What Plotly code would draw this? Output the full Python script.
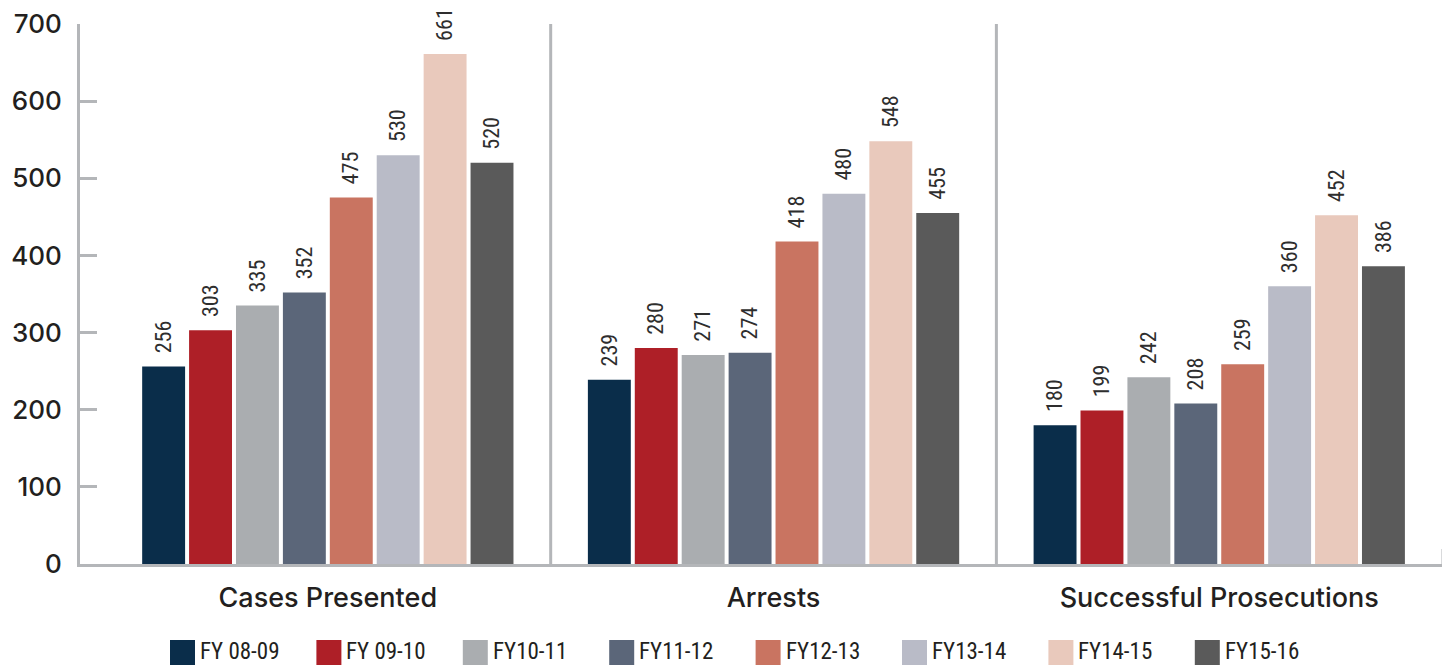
import plotly.graph_objects as go

# ---------------- data ----------------
categories = ["Cases Presented", "Arrests", "Successful Prosecutions"]
series_names = ["FY 08-09", "FY 09-10", "FY10-11", "FY11-12",
                "FY12-13", "FY13-14", "FY14-15", "FY15-16"]
fy08_09 = [256, 239, 180]
fy09_10 = [303, 280, 199]
fy10_11 = [335, 271, 242]
fy11_12 = [352, 274, 208]
fy12_13 = [475, 418, 259]
fy13_14 = [530, 480, 360]
fy14_15 = [661, 548, 452]
fy15_16 = [520, 455, 386]
y_tick_values = [0, 100, 200, 300, 400, 500, 600, 700]

series_values = [fy08_09, fy09_10, fy10_11, fy11_12,
                 fy12_13, fy13_14, fy14_15, fy15_16]

# ---------------- style ----------------
colors = ["#0a2d4a", "#ae1f27", "#aaadb0", "#5b6679",
          "#c97461", "#b9bbc7", "#e9c9bc", "#5a5a5a"]
axis_color = "#b4b6b9"
text_dark = "#231f20"
label_font = "Roboto Condensed, DejaVu Sans Condensed, sans-serif"
main_font = "Inter"

OFF = 8  # page body margin of the browser
W, H = 1450 - OFF, 667 - OFF
M_L, M_R, M_T, M_B = 80 - OFF, 7, 24 - OFF, 103
PLOT_W = W - M_L - M_R
PLOT_H = H - M_T - M_B


def px_to_paper_x(px):
    return (px - OFF - M_L) / PLOT_W


def py_to_paper_y(py):
    return (H - M_B - (py - OFF)) / PLOT_H


fig = go.Figure()
for name, vals, col in zip(series_names, series_values, colors):
    fig.add_trace(go.Bar(
        name=name,
        x=categories,
        y=vals,
        marker=dict(color=col, line=dict(width=0)),
        text=vals,
        texttemplate="\u00a0\u00a0%{text}",
        textposition="outside",
        textangle=-90,
        outsidetextfont=dict(family=label_font, size=23, color="#2e2e2e", weight=400),
        cliponaxis=False,
        showlegend=False,
        hoverinfo="x+y+name",
    ))

shapes = []
for sep in [0.5, 1.5]:
    shapes.append(dict(type="line", xref="x", yref="paper", x0=sep, x1=sep,
                       y0=0, y1=1, line=dict(color=axis_color, width=3)))
shapes.append(dict(type="line", xref="paper", yref="paper", x0=1, x1=1,
                   y0=0, y1=15 / PLOT_H, line=dict(color=axis_color, width=3)))

annotations = []
leg_start = 170
leg_step = 146.4
sw = 25
sw_top = 640
for i, (name, col) in enumerate(zip(series_names, colors)):
    x0 = leg_start + leg_step * i
    shapes.append(dict(type="rect", xref="paper", yref="paper",
                       x0=px_to_paper_x(x0), x1=px_to_paper_x(x0 + sw),
                       y0=py_to_paper_y(sw_top), y1=py_to_paper_y(sw_top + sw),
                       fillcolor=col, line=dict(width=0)))
    annotations.append(dict(xref="paper", yref="paper",
                            x=px_to_paper_x(x0 + sw + 3), y=py_to_paper_y(sw_top + sw / 2 - 1),
                            xanchor="left", yanchor="middle", showarrow=False,
                            text=name,
                            font=dict(family=label_font, size=23, color=text_dark, weight=400)))

fig.update_layout(
    width=W, height=H,
    margin=dict(l=M_L, r=M_R, t=M_T, b=M_B, pad=0, autoexpand=False),
    plot_bgcolor="white", paper_bgcolor="white",
    barmode="group",
    bargap=0.158,
    bargroupgap=0.085,
    shapes=shapes,
    annotations=annotations,
    xaxis=dict(
        type="category",
        range=[-0.556, 2.502],
        automargin=False,
        showline=True, linecolor=axis_color, linewidth=3,
        ticks="", showgrid=False, zeroline=False,
        tickfont=dict(family=main_font, size=27, color=text_dark, weight=500),
        ticklabelstandoff=8,
    ),
    yaxis=dict(
        range=[0, 700],
        tickvals=y_tick_values,
        automargin=False,
        showline=True, linecolor=axis_color, linewidth=3,
        ticks="inside", ticklen=17, tickwidth=3, tickcolor=axis_color,
        showgrid=False, zeroline=False,
        tickfont=dict(family=main_font, size=26, color=text_dark, weight=500),
        ticklabelstandoff=10,
    ),
)

fig.write_html("out.html")
